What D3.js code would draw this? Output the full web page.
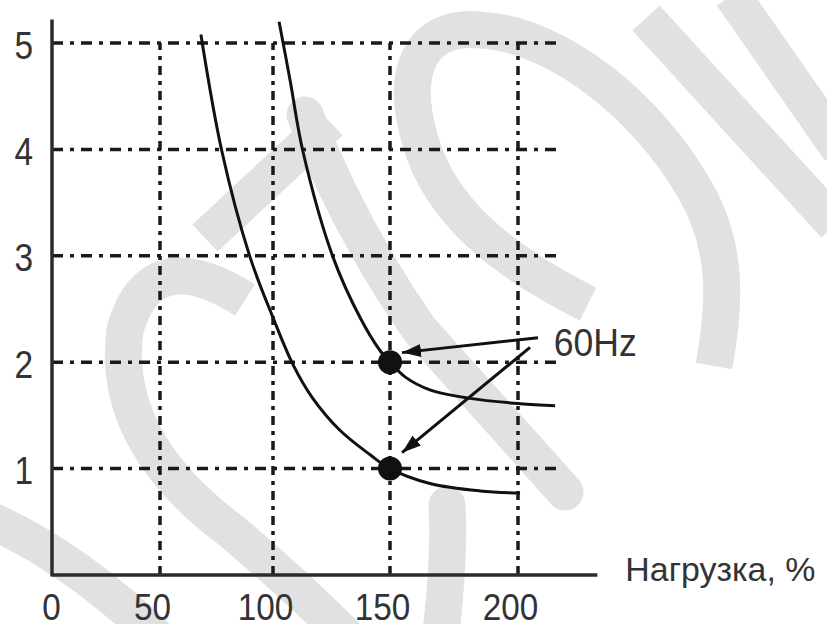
<!DOCTYPE html>
<html>
<head>
<meta charset="utf-8">
<script src="https://cdn.jsdelivr.net/npm/d3@7"></script>
<style>
  html, body { margin: 0; padding: 0; background: #fff; }
  svg { display: block; }
  text { font-family: "Liberation Sans", Arial, Helvetica, sans-serif; fill: #333; }
</style>
</head>
<body>
<svg id="chart" width="827" height="624"></svg>
<script>
// ---------- data ----------
const xTicks = [0, 50, 100, 150, 200];
const yTicks = [1, 2, 3, 4, 5];
const xGrid = [50, 100, 150, 200];
const yGrid = [1, 2, 3, 4, 5];
const xLabel = "Нагрузка, %";
const freqLabel = "60Hz";

// upper curve (load %, value)
const upperX = [102.6, 107.3, 112.8, 125.6, 137.2, 145.7, 150, 156.0, 165.6, 181.3, 200.8, 214.5];
const upperY = [5.20, 4.65, 3.98, 2.99, 2.42, 2.11, 2.00, 1.86, 1.74, 1.66, 1.61, 1.59];
// lower curve
const lowerX = [68.1, 77.4, 89.8, 100.0, 108.5, 116.7, 128.6, 141.5, 150, 165.6, 185.2, 200.8];
const lowerY = [5.08, 3.98, 2.99, 2.42, 1.98, 1.67, 1.36, 1.13, 1.00, 0.86, 0.79, 0.77];
// marked points
const dotX = [150, 150];
const dotY = [2, 1];
// arrows: start -> tip (data units)
const arrowFromX = [207.8, 204.7];
const arrowFromY = [2.23, 2.14];
const arrowToX = [154.7, 154.7];
const arrowToY = [2.09, 1.15];
// label anchor (data units)
const freqLabelX = 214;
const freqLabelY = 2.08;
// axis extents (data units)
const xAxisMax = 231, yAxisMax = 5.22, hGridMax = 217.2;

// ---------- scales ----------
const x = d3.scaleLinear().domain([0, 50, 100, 150, 200]).range([52, 160, 273, 390, 518]);
const y = d3.scaleLinear().domain([0, 5]).range([575, 43]);

const svg = d3.select("#chart");

// ---------- watermark (decoration) ----------
const wm = svg.append("g").attr("fill", "none").attr("stroke", "#e1e1e1")
  .attr("stroke-width", 37).attr("stroke-linecap", "butt");
const wmPaths = [
  "M -10,520 Q 80,560 170,650",
  "M 245,300 Q 150,240 125,330 Q 110,440 230,530 Q 290,580 350,640",
  "M 447,505 Q 450,560 440,640",
  "M 205,238 L 330,122",
  "M 305,115 Q 350,230 420,330 L 565,492",
  "M 588,304 C 500,260 440,210 420,140 C 400,70 420,25 480,30 C 560,34 650,110 695,190 C 730,250 724,310 714,366",
  "M 646,18 L 835,225",
  "M 732,-5 L 840,150"
];
wm.selectAll("path").data(wmPaths).join("path").attr("d", d => d)
  .attr("stroke-linecap", (d, i) => i === 4 || i === 2 ? "round" : "butt");

// ---------- grid ----------
const grid = svg.append("g").attr("stroke", "#1a1a1a").attr("stroke-width", 3.5).attr("fill", "none");
grid.selectAll("line.h").data(yGrid).join("line").attr("class", "h")
  .attr("x1", x(0)).attr("x2", x(hGridMax))
  .attr("y1", d => y(d)).attr("y2", d => y(d))
  .attr("stroke-dasharray", "11,7,4,7");
grid.selectAll("line.v").data(xGrid).join("line").attr("class", "v")
  .attr("x1", d => x(d)).attr("x2", d => x(d))
  .attr("y1", y(0)).attr("y2", y(5))
  .attr("stroke-dasharray", "9,6,4,6");

// ---------- axes ----------
const axes = svg.append("g").attr("stroke", "#2b2b2b").attr("stroke-width", 3.5);
axes.append("line").attr("x1", x(0)).attr("x2", x(0)).attr("y1", y(0) + 1.5).attr("y2", y(yAxisMax));
axes.append("line").attr("x1", x(0)).attr("x2", x(xAxisMax)).attr("y1", y(0)).attr("y2", y(0));

const xAxisG = svg.append("g").attr("transform", `translate(0,${y(0)})`)
  .call(d3.axisBottom(x).tickValues(xTicks).tickSize(0).tickPadding(0).tickFormat(d3.format("d")));
xAxisG.select(".domain").remove();
xAxisG.selectAll("text")
  .attr("dy", null).attr("y", 45)
  .attr("font-size", 37).attr("fill", "#333")
  .style("font-family", '"Liberation Sans", Arial, sans-serif')
  .attr("transform", d => `translate(${d === 0 ? -1 : -8},0) scale(0.9,1)`);

const yAxisG = svg.append("g").attr("transform", `translate(${x(0)},0)`)
  .call(d3.axisLeft(y).tickValues(yTicks).tickSize(0).tickPadding(0).tickFormat(d3.format("d")));
yAxisG.select(".domain").remove();
yAxisG.selectAll("text")
  .attr("dy", null).attr("x", 0).attr("y", 15)
  .attr("text-anchor", "end")
  .attr("font-size", 38).attr("fill", "#333")
  .style("font-family", '"Liberation Sans", Arial, sans-serif')
  .attr("transform", "translate(-19,0) scale(0.88,1)");

// axis title
svg.append("text")
  .attr("x", x(xAxisMax) + 28).attr("y", y(0) + 6)
  .attr("font-size", 33)
  .attr("textLength", 190).attr("lengthAdjust", "spacingAndGlyphs")
  .text(xLabel);

// ---------- curves ----------
const line = d3.line().x(d => x(d[0])).y(d => y(d[1])).curve(d3.curveCatmullRom.alpha(0.5));
const curves = [d3.zip(upperX, upperY), d3.zip(lowerX, lowerY)];
svg.append("g").selectAll("path").data(curves).join("path")
  .attr("d", line).attr("fill", "none").attr("stroke", "#111").attr("stroke-width", 3);

// ---------- dots ----------
svg.append("g").selectAll("circle").data(d3.zip(dotX, dotY)).join("circle")
  .attr("cx", d => x(d[0])).attr("cy", d => y(d[1])).attr("r", 12).attr("fill", "#111");

// ---------- arrows ----------
svg.append("defs").append("marker")
  .attr("id", "ah").attr("markerUnits", "userSpaceOnUse")
  .attr("markerWidth", 20).attr("markerHeight", 14)
  .attr("refX", 19).attr("refY", 6.5).attr("orient", "auto")
  .append("path").attr("d", "M0,0 L19,6.5 L0,13 Z").attr("fill", "#111");

const arrows = d3.range(arrowFromX.length).map(i => [arrowFromX[i], arrowFromY[i], arrowToX[i], arrowToY[i]]);
svg.append("g").selectAll("line").data(arrows).join("line")
  .attr("x1", d => x(d[0])).attr("y1", d => y(d[1]))
  .attr("x2", d => x(d[2])).attr("y2", d => y(d[3]))
  .attr("stroke", "#111").attr("stroke-width", 3)
  .attr("marker-end", "url(#ah)");

// frequency label
svg.append("text")
  .attr("x", x(freqLabelX)).attr("y", y(freqLabelY) + 2)
  .attr("font-size", 38)
  .attr("textLength", 83).attr("lengthAdjust", "spacingAndGlyphs")
  .text(freqLabel);
</script>
</body>
</html>
